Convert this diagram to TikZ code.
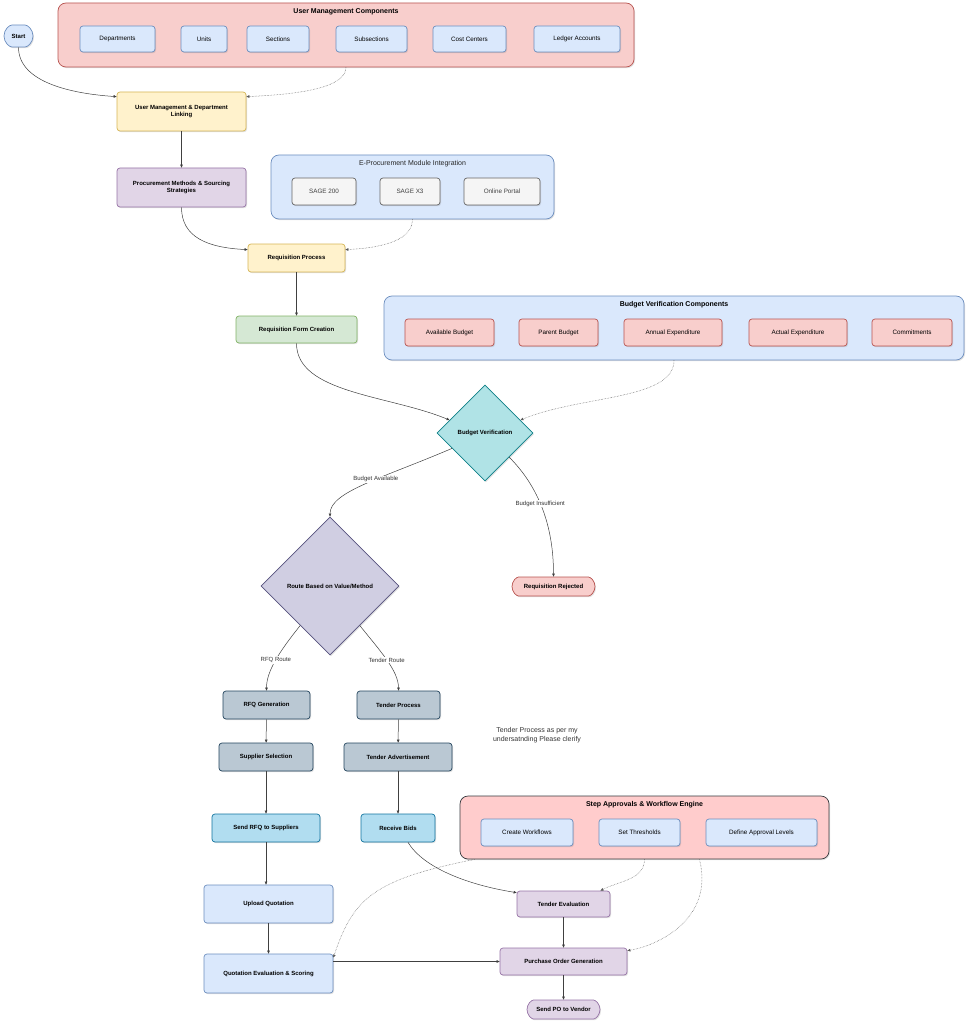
\documentclass[tikz,border=0pt]{standalone}
\usepackage{fontspec}
\setmainfont{Liberation Sans}
\usetikzlibrary{shapes.geometric,shapes.misc,shadows,arrows.meta}

\definecolor{redF}{HTML}{F8CECC}\definecolor{redD}{HTML}{B85450}
\definecolor{bluF}{HTML}{DAE8FC}\definecolor{bluD}{HTML}{6C8EBF}
\definecolor{yelF}{HTML}{FFF2CC}\definecolor{yelD}{HTML}{D6B656}
\definecolor{purF}{HTML}{E1D5E7}\definecolor{purD}{HTML}{9673A6}
\definecolor{grnF}{HTML}{D5E8D4}\definecolor{grnD}{HTML}{82B366}
\definecolor{gryF}{HTML}{F5F5F5}\definecolor{gryD}{HTML}{666666}
\definecolor{tealF}{HTML}{B0E3E6}\definecolor{tealD}{HTML}{0E8088}
\definecolor{slaF}{HTML}{BAC8D3}\definecolor{slaD}{HTML}{23445D}
\definecolor{skyF}{HTML}{B1DDF0}\definecolor{skyD}{HTML}{10739E}
\definecolor{lavF}{HTML}{D0CEE2}\definecolor{lavD}{HTML}{56517E}
\definecolor{pinkF}{HTML}{FFCCCC}\definecolor{pinkD}{HTML}{36393D}

\begin{document}
\begin{tikzpicture}[x=1pt,y=-1pt,
  base/.style={draw, line width=0.7pt, align=center, inner sep=1pt,
    drop shadow={shadow xshift=1pt,shadow yshift=-1.2pt,opacity=0.25}},
  box/.style={base, rounded corners=3pt, font=\fontsize{6}{7.4}\selectfont\bfseries},
  item/.style={base, rounded corners=3pt, font=\fontsize{6.3}{7.5}\selectfont},
  group/.style={base, rounded corners=8pt},
  grouptitle/.style={font=\fontsize{7}{8.4}\selectfont\bfseries},
  pill/.style={box, rounded rectangle},
  decision/.style={base, diamond, aspect=1, inner sep=0pt, font=\fontsize{6}{7.4}\selectfont\bfseries},
  flow/.style={-{Triangle[length=3pt,width=2.6pt]}, draw=black!75, line width=0.5pt},
  hint/.style={flow, draw=black!65, densely dotted},
  tag/.style={fill=white, inner sep=1pt, font=\fontsize{6}{7}\selectfont, text=black!80}
]
\useasboundingbox (0,0) rectangle (968,1024);

% user management components
\node[group, fill=redF, draw=redD, minimum width=576pt, minimum height=64pt] (umc) at (346,35) {};
\node[grouptitle, below=2.5pt] at (umc.north) {User Management Components};
\node[item, fill=bluF, draw=bluD, minimum width=75pt, minimum height=26pt] (dep) at (117.5,39) {Departments};
\node[item, fill=bluF, draw=bluD, minimum width=46pt, minimum height=26pt] (unit) at (204,39) {Units};
\node[item, fill=bluF, draw=bluD, minimum width=62pt, minimum height=26pt] (sec) at (278,39) {Sections};
\node[item, fill=bluF, draw=bluD, minimum width=71pt, minimum height=26pt] (subsec) at (371.5,39) {Subsections};
\node[item, fill=bluF, draw=bluD, minimum width=73pt, minimum height=26pt] (cost) at (469.5,39) {Cost Centers};
\node[item, fill=bluF, draw=bluD, minimum width=86pt, minimum height=26pt] (ledger) at (577,39) {Ledger Accounts};

\node[pill, fill=bluF, draw=bluD, minimum width=31pt, minimum height=22pt] (start) at (18.5,36) {Start};
\node[box, fill=yelF, draw=yelD, minimum width=129pt, minimum height=39pt] (umdl) at (181.5,111.5) {User Management \& Department\\Linking};
\node[box, fill=purF, draw=purD, minimum width=129pt, minimum height=39pt] (pm) at (181.5,187.5) {Procurement Methods \& Sourcing\\Strategies};

% e-procurement
\node[group, fill=bluF, draw=bluD, minimum width=283pt, minimum height=64pt] (ep) at (412.5,187) {};
\node[grouptitle, font=\fontsize{7}{8.4}\selectfont, text=black!85, below=2.5pt] at (ep.north) {E-Procurement Module Integration};
\node[item, fill=gryF, draw=gryD, text=black!75, minimum width=64pt, minimum height=27pt] (sage2) at (324,191.5) {SAGE 200};
\node[item, fill=gryF, draw=gryD, text=black!75, minimum width=60pt, minimum height=27pt] (sagex) at (410,191.5) {SAGE X3};
\node[item, fill=gryF, draw=gryD, text=black!75, minimum width=76pt, minimum height=27pt] (portal) at (502,191.5) {Online Portal};

\node[box, fill=yelF, draw=yelD, minimum width=97pt, minimum height=28pt] (rp) at (296.5,258) {Requisition Process};
\node[box, fill=grnF, draw=grnD, minimum width=121pt, minimum height=27pt] (rf) at (296.5,329.5) {Requisition Form Creation};

% budget verification components
\node[group, fill=bluF, draw=bluD, minimum width=580pt, minimum height=64pt] (bvc) at (674,328) {};
\node[grouptitle, below=2.5pt] at (bvc.north) {Budget Verification Components};
\node[item, fill=redF, draw=redD, minimum width=89pt, minimum height=27pt] (avail) at (449.5,332.5) {Available Budget};
\node[item, fill=redF, draw=redD, minimum width=79pt, minimum height=27pt] (parent) at (558.5,332.5) {Parent Budget};
\node[item, fill=redF, draw=redD, minimum width=98pt, minimum height=27pt] (annual) at (673,332.5) {Annual Expenditure};
\node[item, fill=redF, draw=redD, minimum width=98pt, minimum height=27pt] (actual) at (798,332.5) {Actual Expenditure};
\node[item, fill=redF, draw=redD, minimum width=80pt, minimum height=27pt] (commit) at (912,332.5) {Commitments};

\node[decision, fill=tealF, draw=tealD, minimum width=96pt, minimum height=96pt] (bv) at (485,433) {Budget Verification};
\node[pill, fill=redF, draw=redD, minimum width=85pt, minimum height=19pt] (rr) at (553.5,586.5) {Requisition Rejected};
\node[decision, fill=lavF, draw=lavD, minimum width=138pt, minimum height=138pt] (route) at (330,586) {Route Based on Value/Method};

% rfq and tender branches
\node[box, fill=slaF, draw=slaD, minimum width=87pt, minimum height=28pt] (rfq) at (266.5,705) {RFQ Generation};
\node[box, fill=slaF, draw=slaD, minimum width=83pt, minimum height=28pt] (tp) at (398.5,705) {Tender Process};
\node[box, fill=slaF, draw=slaD, minimum width=94pt, minimum height=28pt] (ss) at (266,757) {Supplier Selection};
\node[box, fill=slaF, draw=slaD, minimum width=108pt, minimum height=28pt] (ta) at (398,757) {Tender Advertisement};
\node[font=\fontsize{7}{8.4}\selectfont, text=black!80, align=center] (note) at (537,735) {Tender Process as per my\\undersatnding Please clerify};
\node[box, fill=skyF, draw=skyD, minimum width=108pt, minimum height=28pt] (srfq) at (266,828) {Send RFQ to Suppliers};
\node[box, fill=skyF, draw=skyD, minimum width=74pt, minimum height=28pt] (rb) at (398,828) {Receive Bids};

% step approvals
\node[group, fill=pinkF, draw=pinkD, minimum width=369pt, minimum height=63pt] (sa) at (644.5,827.5) {};
\node[grouptitle, below=2.5pt] at (sa.north) {Step Approvals \& Workflow Engine};
\node[item, fill=bluF, draw=bluD, minimum width=92pt, minimum height=27pt] (cw) at (527,832.5) {Create Workflows};
\node[item, fill=bluF, draw=bluD, minimum width=81pt, minimum height=27pt] (st) at (639.5,832.5) {Set Thresholds};
\node[item, fill=bluF, draw=bluD, minimum width=111pt, minimum height=27pt] (dal) at (761.5,832.5) {Define Approval Levels};

\node[box, fill=bluF, draw=bluD, minimum width=129pt, minimum height=38pt] (upq) at (268.5,904) {Upload Quotation};
\node[box, fill=bluF, draw=bluD, minimum width=129pt, minimum height=39pt] (qes) at (268.5,973.5) {Quotation Evaluation \& Scoring};
\node[box, fill=purF, draw=purD, minimum width=93pt, minimum height=26pt] (te) at (563.5,904) {Tender Evaluation};
\node[box, fill=purF, draw=purD, minimum width=127pt, minimum height=27pt] (pog) at (563.5,961.5) {Purchase Order Generation};
\node[pill, fill=purF, draw=purD, minimum width=75pt, minimum height=19pt] (spo) at (563.5,1009.5) {Send PO to Vendor};

% connectors
\draw[flow] (start.south) .. controls +(0,35) and +(-45,-3) .. ([yshift=-5pt]umdl.north west);
\draw[hint] (umc.south) .. controls +(0,22) and +(45,-2) .. ([yshift=-5pt]umdl.north east);
\draw[flow] (umdl) -- (pm);
\draw[flow] (pm.south) .. controls +(0,30) and +(-40,-2) .. ([yshift=-6pt]rp.north west);
\draw[hint] (ep.south) .. controls +(0,20) and +(40,-2) .. ([yshift=-6pt]rp.north east);
\draw[flow] (rp) -- (rf);
\draw[flow] (rf.south) .. controls +(0,50) and +(-60,-25) .. (bv.160);
\draw[hint] (bvc.south) .. controls +(0,40) and +(60,-25) .. (bv.20);
\draw[flow] (bv.205) .. controls +(-70,30) and +(0,-25) .. node[tag, pos=0.42] {Budget Available} (route.north);
\draw[flow] (bv.-45) .. controls +(30,30) and +(0,-50) .. node[tag, pos=0.45] {Budget Insufficient} (rr.north);
\draw[flow] (route.233) .. controls +(-20,25) and +(0,-20) .. node[tag, pos=0.5] {RFQ Route} (rfq.north);
\draw[flow] (route.-53) .. controls +(20,25) and +(0,-20) .. node[tag, pos=0.5] {Tender Route} (tp.north);
\draw[flow] (rfq) -- (ss);
\draw[flow] (tp) -- (ta);
\draw[flow] (ss) -- (srfq);
\draw[flow] (ta) -- (rb);
\draw[flow] (srfq.south) -- (srfq.south |- upq.north);
\draw[flow] (upq) -- (qes);
\draw[flow] ([xshift=10pt]rb.south) .. controls +(15,25) and +(-50,-8) .. ([yshift=-2pt]te.north west);
\draw[hint] ([xshift=15pt]sa.south west) .. controls +(-100,20) and +(20,-60) .. ([yshift=-4pt]qes.north east);
\draw[hint] (sa.south) .. controls +(0,20) and +(20,-10) .. ([xshift=-10pt]te.north east);
\draw[hint] ([xshift=55pt]sa.south) .. controls +(15,60) and +(30,-5) .. ([yshift=-3pt]pog.north east);
\draw[flow] (qes.east |- pog.west) -- (pog.west);
\draw[flow] (te) -- (pog);
\draw[flow] (pog) -- (spo);
\end{tikzpicture}
\end{document}
